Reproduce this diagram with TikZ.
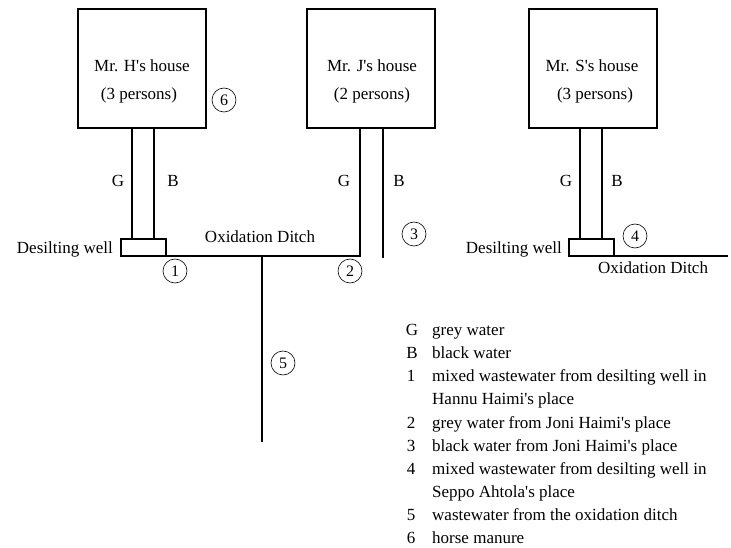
\documentclass[tikz,border=0pt]{standalone}
\usepackage{fontspec}
\setmainfont{Liberation Serif}
\newcommand{\aps}{\textquotesingle}
\begin{document}
\begin{tikzpicture}[x=1pt,y=-1pt,
  pipe/.style={line width=2.6pt},
  house/.style={draw,line width=2.6pt,minimum width=128pt,minimum height=119pt,inner sep=0pt},
  well/.style={draw,line width=2pt,minimum width=45pt,minimum height=17pt,inner sep=0pt},
  lbl/.style={font=\fontsize{17}{19}\selectfont,inner sep=0pt},
  num/.style={circle,draw,line width=0.6pt,minimum size=24pt,inner sep=0pt,font=\fontsize{16}{17}\selectfont},
  key/.style={font=\fontsize{17}{19}\selectfont,inner sep=0pt,anchor=base},
  txt/.style={font=\fontsize{17}{19}\selectfont,inner sep=0pt,anchor=base west}]
\useasboundingbox (0,0) rectangle (731,548);
\fill[white] (0,0) rectangle (731,548);

% houses
\node[house] (hh) at (142,68.5) {};
\node[house] (jh) at (371,68.5) {};
\node[house] (sh) at (593,68.5) {};
\node[lbl,anchor=base] (hh1) at (142,72) {Mr. H\aps s house};
\node[lbl,anchor=base] (hh2) at (139,100) {(3 persons)};
\node[lbl,anchor=base] (jh1) at (372,72) {Mr. J\aps s house};
\node[lbl,anchor=base] (jh2) at (372,100) {(2 persons)};
\node[lbl,anchor=base] (sh1) at (592,72) {Mr. S\aps s house};
\node[lbl,anchor=base] (sh2) at (595,100) {(3 persons)};

% desilting wells
\node[well] (hw) at (143.5,247.5) {};
\node[well] (sw) at (591,247.5) {};

% pipe end points
\coordinate (hg0) at (132,128);
\coordinate (hg1) at (132,239);
\coordinate (hb0) at (154,128);
\coordinate (hb1) at (154,239);
\coordinate (jg0) at (360,128);
\coordinate (jg1) at (360,256);
\coordinate (jb0) at (383,128);
\coordinate (jb1) at (383,258);
\coordinate (sg0) at (580,128);
\coordinate (sg1) at (580,239);
\coordinate (sb0) at (602,128);
\coordinate (sb1) at (602,239);
\coordinate (d0) at (121,256);
\coordinate (dj) at (262,256);
\coordinate (d5) at (262,442);
\coordinate (s0) at (613,256);
\coordinate (s1) at (728,256);

% pipes and ditches
\draw[pipe] (hg0) -- (hg1);
\draw[pipe] (hb0) -- (hb1);
\draw[pipe] (jg0) -- (jg1) -- (d0);
\draw[pipe] (jb0) -- (jb1);
\draw[pipe] (sg0) -- (sg1);
\draw[pipe] (sb0) -- (sb1);
\draw[pipe] (dj) -- (d5);
\draw[pipe] (s0) -- (s1);
\node[well] at (hw) {};
\node[well] at (sw) {};

% G / B labels
\node[lbl,anchor=base] (hgl) at (118,187) {G};
\node[lbl,anchor=base] (hbl) at (173,187) {B};
\node[lbl,anchor=base] (jgl) at (344,187) {G};
\node[lbl,anchor=base] (jbl) at (399,187) {B};
\node[lbl,anchor=base] (sgl) at (566,187) {G};
\node[lbl,anchor=base] (sbl) at (617,187) {B};

% other labels
\node[lbl,anchor=base east] (hwl) at (113,254) {Desilting well};
\node[lbl,anchor=base] (odl) at (260,243) {Oxidation Ditch};
\node[lbl,anchor=base east] (swl) at (562,254) {Desilting well};
\node[lbl,anchor=base] (sdl) at (653,273) {Oxidation Ditch};

% sampling points
\node[num] (n1) at (175,271) {1};
\node[num] (n2) at (350,271) {2};
\node[num] (n3) at (414,234) {3};
\node[num] (n4) at (635,236) {4};
\node[num] (n5) at (283,363) {5};
\node[num] (n6) at (224,100) {6};

% legend
\node[key] (kg) at (412,335) {G};
\node[txt] (tg) at (432,335) {grey water};
\node[key] (kb) at (412,358) {B};
\node[txt] (tb) at (432,358) {black water};
\node[key] (k1) at (411,381) {1};
\node[txt] (t1a) at (432,381) {mixed wastewater from desilting well in};
\node[txt] (t1b) at (432,404) {Hannu Haimi\aps s place};
\node[key] (k2) at (411,428) {2};
\node[txt] (t2) at (432,428) {grey water from Joni Haimi\aps s place};
\node[key] (k3) at (411,451) {3};
\node[txt] (t3) at (432,451) {black water from Joni Haimi\aps s place};
\node[key] (k4) at (411,474) {4};
\node[txt] (t4a) at (432,474) {mixed wastewater from desilting well in};
\node[txt] (t4b) at (432,497) {Seppo Ahtola\aps s place};
\node[key] (k5) at (411,520) {5};
\node[txt] (t5) at (432,520) {wastewater from the oxidation ditch};
\node[key] (k6) at (411,543) {6};
\node[txt] (t6) at (432,543) {horse manure};
\end{tikzpicture}
\end{document}
